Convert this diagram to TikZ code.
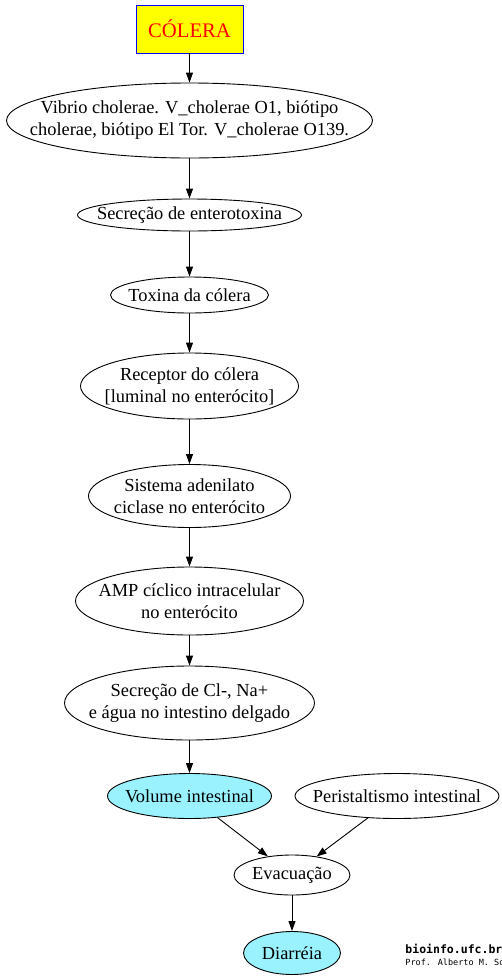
\documentclass[tikz,border=0pt]{standalone}
\usepackage{fontspec}
\setmainfont{Liberation Serif}
\newfontfamily\markfont{DejaVu Sans Mono}
\usetikzlibrary{arrows.meta,shapes.geometric}
\definecolor{boxfill}{HTML}{FFFF00}
\definecolor{boxline}{HTML}{0000FF}
\definecolor{boxtext}{HTML}{FF0000}
\definecolor{symptom}{HTML}{9BF2FF}

\begin{document}
\begin{tikzpicture}[x=1pt, y=-1pt, line width=0.9pt,
  every node/.style={font=\fontsize{18.4}{22}\selectfont},
  oval/.style={draw, ellipse, inner sep=0pt},
  sz/.style 2 args={minimum width=#1, minimum height=#2},
  txt/.style={align=center, inner sep=0pt},
  flow/.style={-{Triangle[length=10pt, width=7pt]}}]
\useasboundingbox (0,0) rectangle (502,978);
% title box
\node[draw=boxline, fill=boxfill, text=boxtext, sz={107}{48}, inner sep=0pt,
  font=\fontsize{20.7}{24}\selectfont] (col) at (189.5,29) {CÓLERA};
% main chain
\node[oval, sz={366}{75}, label={[txt]center:{Vibrio cholerae. V\_cholerae O1, biótipo\\cholerae, biótipo El Tor. V\_cholerae O139.}}] (vib) at (189.5,120.5) {};
\node[oval, sz={224}{32}, label={[txt]center:{Secreção de enterotoxina}}] (sec) at (189.5,215) {};
\node[oval, sz={158}{36}, label={[txt]center:{Toxina da cólera}}] (tox) at (189.5,295) {};
\node[oval, sz={218}{66}, label={[txt]center:{Receptor do cólera\\{[}luminal no enterócito{]}}}] (rec) at (189.5,386) {};
\node[oval, sz={202}{63}, label={[txt]center:{Sistema adenilato\\ciclase no enterócito}}] (sis) at (189.5,496) {};
\node[oval, sz={228}{68}, label={[txt]center:{AMP cíclico intracelular\\no enterócito}}] (amp) at (189.5,601) {};
\node[oval, sz={250}{74}, label={[txt]center:{Secreção de Cl-, Na+\\e água no intestino delgado}}] (cl) at (189.5,703) {};
% bottom
\node[oval, fill=symptom, sz={164}{45}, label={[txt]center:{Volume intestinal}}] (vol) at (189.5,796) {};
\node[oval, sz={204}{45}, label={[txt]center:{Peristaltismo intestinal}}] (per) at (397,796) {};
\node[oval, sz={116}{40}, label={[txt]center:{Evacuação}}] (eva) at (292,875) {};
\node[oval, fill=symptom, sz={97}{43}, label={[txt]center:{Diarréia}}] (dia) at (292,953) {};
% arrows
\foreach \a/\b in {col/vib, vib/sec, sec/tox, tox/rec, rec/sis, sis/amp, amp/cl, cl/vol, vol/eva, per/eva, eva/dia}
  \draw[flow] (\a) -- (\b);
% signature
\node[anchor=base west, inner sep=0pt, font=\markfont\bfseries\fontsize{11.5}{12}\selectfont] (site) at (405,953) {bioinfo.ufc.br};
\node[anchor=base west, inner sep=0pt, font=\markfont\fontsize{8.5}{9}\selectfont] (prof) at (405,965) {Prof. Alberto M. So};
\end{tikzpicture}
\end{document}
